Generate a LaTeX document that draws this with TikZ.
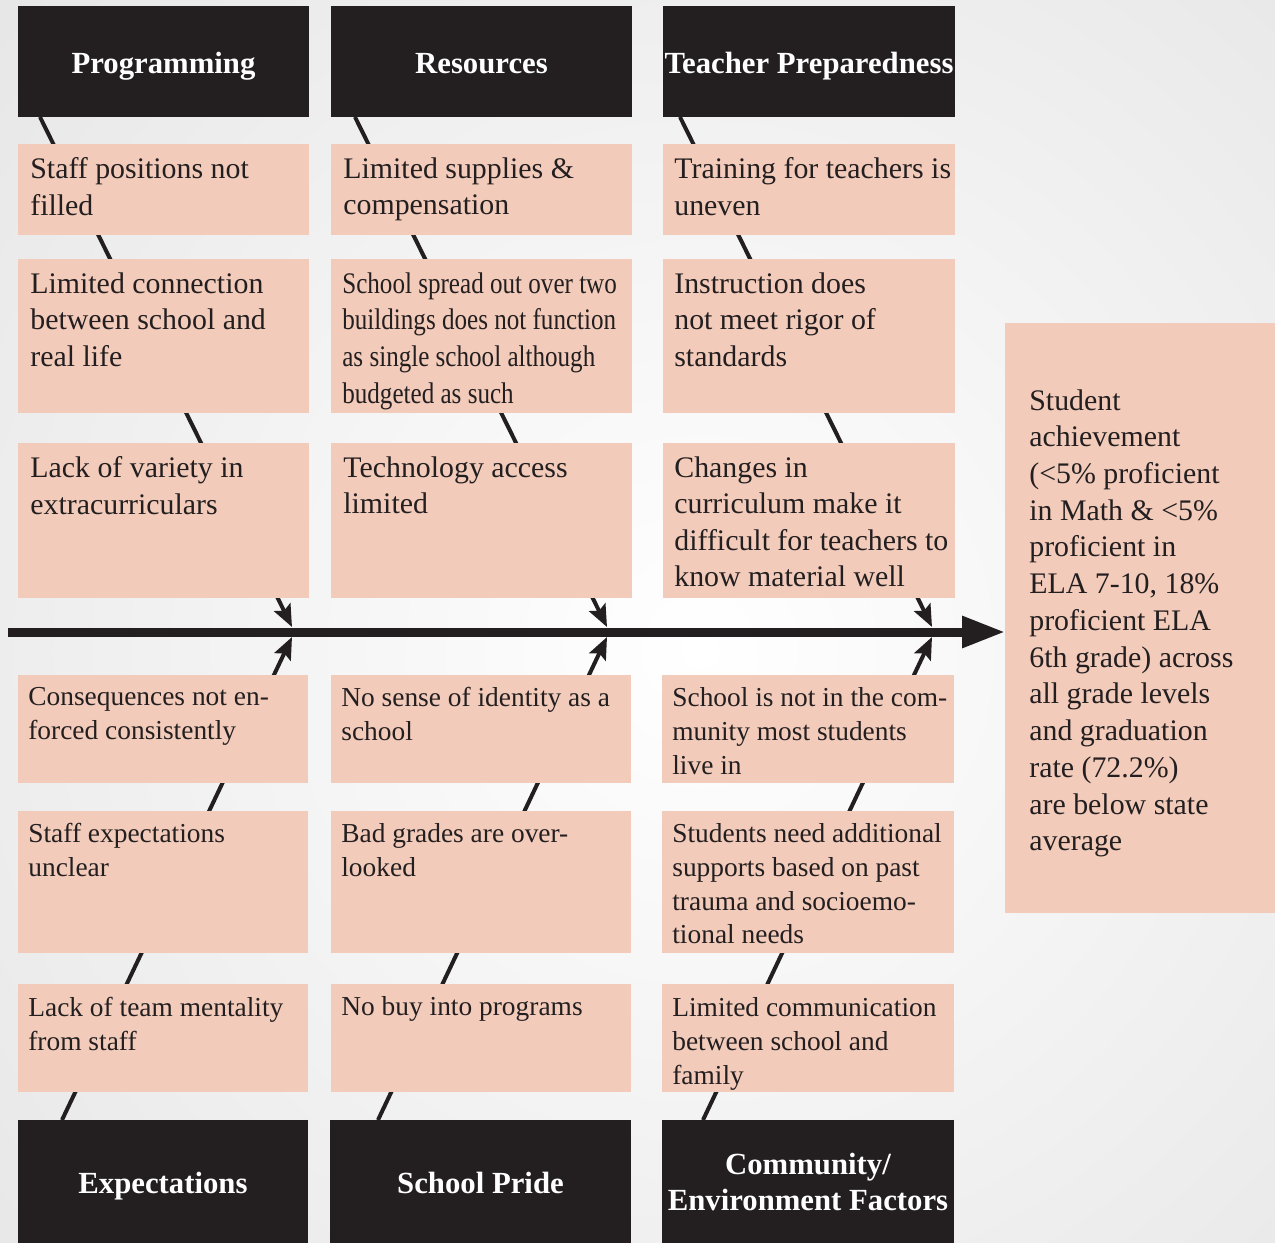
\documentclass[tikz,border=0pt]{standalone}
\usepackage{fontspec}
\setmainfont{Liberation Serif}
\usetikzlibrary{arrows.meta,positioning,calc}
\definecolor{fishpink}{RGB}{243,203,186}
\definecolor{fishblack}{RGB}{35,31,32}
\tikzset{
  causebox/.style={fill=fishpink, anchor=north west, inner sep=0pt, outer sep=0pt},
  headbox/.style={fill=fishblack, anchor=north west, inner sep=0pt, outer sep=0pt,
    text=white, align=center, font=\fontsize{17.5}{20.5}\selectfont\bfseries},
  headone/.style={headbox, text height=14.1pt, text depth=0pt},
  causetext/.style={text=fishblack, align=left, anchor=north west, inner sep=0pt,
    font=\fontsize{17}{20.7}\selectfont, execute at begin node=\strut},
  lowtext/.style={causetext, font=\fontsize{15.6}{19.2}\selectfont},
  bone/.style={draw=fishblack, line width=0.08cm,
    -{Stealth[length=0.44cm, width=0.36cm, inset=0.08cm]}},
  spine/.style={draw=fishblack, line width=0.18cm,
    -{Triangle[length=0.86cm, width=0.6cm]}},
}
\begin{document}
\begin{tikzpicture}[x=0.02cm, y=-0.02cm]
% page and background
\useasboundingbox (0,0) rectangle (1275,1243);
\begin{scope}
  \clip (0,0) rectangle (1275,1243);
  \shade[inner color=white, outer color=gray!20] (-300,-350) rectangle (1700,1650);
\end{scope}

% Marking the category headers
\node[headone, minimum width=5.82cm, minimum height=2.22cm] (hprog) at (18,6) {Programming};
\node[headone, minimum width=6.02cm, minimum height=2.22cm] (hres) at (331,6) {Resources};
\node[headone, minimum width=5.84cm, minimum height=2.22cm] (hteach) at (663,6) {Teacher Preparedness};
\node[headone, minimum width=5.80cm, minimum height=2.46cm] (hexp) at (18,1120) {Expectations};
\node[headone, minimum width=6.02cm, minimum height=2.46cm] (hpride) at (330,1120) {School Pride};
\node[headbox, minimum width=5.84cm, minimum height=2.46cm] (hcomm) at (662,1120) {Community/\\Environment Factors};

% Marking the effect box
\node[causebox, minimum width=5.40cm, minimum height=11.80cm] (effect) at (1005,323) {};
\node[causetext, font=\fontsize{17}{20.9}\selectfont] (effect-t) at ([shift={(24,66)}]effect.north west)
  {Student\\achievement\\(<5\% proficient\\in Math \& <5\%\\proficient in\\ELA 7-10, 18\%\\proficient ELA\\6th grade) across\\all grade levels\\and graduation\\rate (72.2\%)\\are below state\\average};

% Drawing the spine
\coordinate (tail) at (8,632);
\draw[spine] (tail) -- (tail -| effect.west);

% Marking the joints on the spine
\coordinate (j1t) at (292,627);
\coordinate (j1b) at (292,637);
\coordinate (j2t) at (607,627);
\coordinate (j2b) at (607,637);
\coordinate (j3t) at (932,627);
\coordinate (j3b) at (932,637);

% Drawing the bones
\draw[bone] ([shift={(22,0)}]hprog.south west) -- (j1t);
\draw[bone] ([shift={(24,0)}]hres.south west) -- (j2t);
\draw[bone] ([shift={(17,0)}]hteach.south west) -- (j3t);
\draw[bone] ([shift={(44,0)}]hexp.north west) -- (j1b);
\draw[bone] ([shift={(48,0)}]hpride.north west) -- (j2b);
\draw[bone] ([shift={(41,0)}]hcomm.north west) -- (j3b);

% Marking the causes above the spine
\node[causebox, minimum width=5.82cm, minimum height=1.82cm] (a1) at (18,144) {};
\node[causebox, minimum width=6.02cm, minimum height=1.82cm] (a2) at (331,144) {};
\node[causebox, minimum width=5.84cm, minimum height=1.82cm] (a3) at (663,144) {};
\node[causebox, minimum width=5.82cm, minimum height=3.08cm] (b1) at (18,259) {};
\node[causebox, minimum width=6.02cm, minimum height=3.08cm] (b2) at (331,259) {};
\node[causebox, minimum width=5.84cm, minimum height=3.08cm] (b3) at (663,259) {};
\node[causebox, minimum width=5.82cm, minimum height=3.10cm] (c1) at (18,443) {};
\node[causebox, minimum width=6.02cm, minimum height=3.10cm] (c2) at (331,443) {};
\node[causebox, minimum width=5.84cm, minimum height=3.10cm] (c3) at (663,443) {};

\node[causetext] (a1t) at ([shift={(12,13.4)}]a1.north west) {Staff positions not\\filled};
\node[causetext] (a2t) at ([shift={(12,13.4)}]a2.north west) {Limited supplies \&\\compensation};
\node[causetext] (a3t) at ([shift={(11,13.4)}]a3.north west) {Training for teachers is\\uneven};
\node[causetext] (b1t) at ([shift={(12,13.4)}]b1.north west) {Limited connection\\between school and\\real life};
\node[causetext, font=\fontsize{17}{20.9}\selectfont\addfontfeatures{FakeStretch=0.84}] (b2t)
  at ([shift={(11,13)}]b2.north west)
  {School spread out over two\\buildings does not function\\as single school although\\budgeted as such};
\node[causetext] (b3t) at ([shift={(11,13.4)}]b3.north west) {Instruction does\\not meet rigor of\\standards};
\node[causetext] (c1t) at ([shift={(12,13.4)}]c1.north west) {Lack of variety in\\extracurriculars};
\node[causetext] (c2t) at ([shift={(12,13.4)}]c2.north west) {Technology access\\limited};
\node[causetext] (c3t) at ([shift={(11,13.4)}]c3.north west) {Changes in\\curriculum make it\\difficult for teachers to\\know material well};

% Marking the causes below the spine
\node[causebox, minimum width=5.80cm, minimum height=2.16cm] (d1) at (18,675) {};
\node[causebox, minimum width=6.00cm, minimum height=2.16cm] (d2) at (331,675) {};
\node[causebox, minimum width=5.84cm, minimum height=2.16cm] (d3) at (662,675) {};
\node[causebox, minimum width=5.80cm, minimum height=2.84cm] (e1) at (18,811) {};
\node[causebox, minimum width=6.00cm, minimum height=2.84cm] (e2) at (331,811) {};
\node[causebox, minimum width=5.84cm, minimum height=2.84cm] (e3) at (662,811) {};
\node[causebox, minimum width=5.80cm, minimum height=2.16cm] (f1) at (18,984) {};
\node[causebox, minimum width=6.00cm, minimum height=2.16cm] (f2) at (331,984) {};
\node[causebox, minimum width=5.84cm, minimum height=2.16cm] (f3) at (662,984) {};

\node[lowtext] (d1t) at ([shift={(10,12.3)}]d1.north west) {Consequences not en-\\forced consistently};
\node[lowtext] (d2t) at ([shift={(10,12.3)}]d2.north west) {No sense of identity as a\\school};
\node[lowtext] (d3t) at ([shift={(10,12.3)}]d3.north west) {School is not in the com-\\munity most students\\live in};
\node[lowtext] (e1t) at ([shift={(10,12.3)}]e1.north west) {Staff expectations\\unclear};
\node[lowtext] (e2t) at ([shift={(10,12.3)}]e2.north west) {Bad grades are over-\\looked};
\node[lowtext] (e3t) at ([shift={(10,12.3)}]e3.north west) {Students need additional\\supports based on past\\trauma and socioemo-\\tional needs};
\node[lowtext] (f1t) at ([shift={(10,13.3)}]f1.north west) {Lack of team mentality\\from staff};
\node[lowtext] (f2t) at ([shift={(10,7.3)}]f2.north west) {No buy into programs};
\node[lowtext] (f3t) at ([shift={(10,13.3)}]f3.north west) {Limited communication\\between school and\\family};
\end{tikzpicture}
\end{document}
